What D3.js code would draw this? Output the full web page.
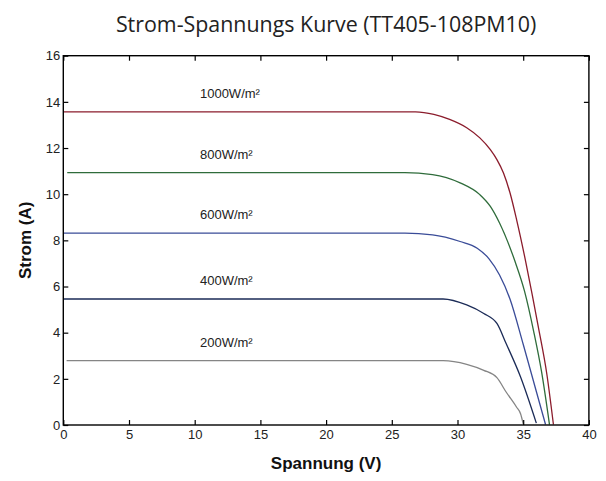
<!DOCTYPE html>
<html>
<head>
<meta charset="utf-8">
<script src="https://cdn.jsdelivr.net/npm/d3@7"></script>
<style>
  body { margin:0; background:#fff; }
  svg { display:block; }
  .tick text { font-family:"Liberation Sans", Arial, sans-serif; font-size:13px; fill:#222; }
</style>
</head>
<body>
<div id="chart"></div>
<script>

// irradiance levels (one curve each)
var irradiance = ["1000W/m²", "800W/m²", "600W/m²", "400W/m²", "200W/m²"];

// voltage (V) / current (A) points
var volt1000 = [0, 26.8, 28.2, 29.4, 30.7, 31.7, 32.5, 33.0, 33.5, 34.0, 34.5, 35.2, 35.7, 36.15, 36.8, 37.3];
var curr1000 = [13.57, 13.57, 13.46, 13.24, 12.88, 12.44, 11.93, 11.5, 10.92, 10.05, 8.89, 7.05, 5.6, 4.25, 2.2, 0.02];

var volt800 = [0.3, 26.0, 28.1, 30.2, 31.7, 32.5, 33.2, 34.4, 35.1, 35.8, 36.4, 37.0];
var curr800 = [10.93, 10.93, 10.85, 10.49, 9.98, 9.47, 8.75, 7.05, 5.8, 4.05, 2.3, 0.02];

var volt600 = [0, 26.0, 28.1, 30.2, 31.5, 32.4, 33.2, 34.0, 35.0, 36.0, 36.7];
var curr600 = [8.31, 8.31, 8.24, 7.95, 7.66, 7.2, 6.5, 5.45, 3.5, 1.45, 0.02];

var volt400 = [0, 28.9, 30.7, 32.0, 33.0, 33.7, 34.8, 36.0];
var curr400 = [5.46, 5.46, 5.2, 4.83, 4.4, 3.53, 2.08, 0.08];

var volt200 = [0.25, 28.9, 30.7, 32.0, 33.0, 33.7, 34.5, 34.8, 35.0];
var curr200 = [2.79, 2.79, 2.63, 2.37, 2.05, 1.43, 0.77, 0.49, 0.05];

var xTicks = [0, 5, 10, 15, 20, 25, 30, 35, 40];
var yTicks = [0, 2, 4, 6, 8, 10, 12, 14, 16];

var labelVolt = 10.4;   // where the irradiance labels start

var colors = ["#8b1c2c", "#2f6c3b", "#3a4c98", "#1b2b57", "#858585"];

var series = [
  {name:irradiance[0], v:volt1000, i:curr1000},
  {name:irradiance[1], v:volt800,  i:curr800},
  {name:irradiance[2], v:volt600,  i:curr600},
  {name:irradiance[3], v:volt400,  i:curr400},
  {name:irradiance[4], v:volt200,  i:curr200}
];

var width = 606, height = 481;
var margin = {top:55.7, right:17.1, bottom:56, left:63.3};
var w = width - margin.left - margin.right;
var h = height - margin.top - margin.bottom;

var svg = d3.select("#chart").append("svg")
  .attr("width", width)
  .attr("height", height);

svg.append("text")
  .attr("x", margin.left + w/2)
  .attr("y", 32)
  .attr("text-anchor", "middle")
  .style("font-family", "'Open Sans', sans-serif")
  .style("font-size", "21.4px")
  .style("fill", "#222")
  .text("Strom-Spannungs Kurve (TT405-108PM10)");

var g = svg.append("g").attr("transform", "translate(" + margin.left + "," + margin.top + ")");

var x = d3.scaleLinear().domain([0, 40]).range([0, w]);
var y = d3.scaleLinear().domain([0, 16]).range([h, 0]);

//curves
var line = d3.line()
  .x(function(d){ return x(d[0]); })
  .y(function(d){ return y(d[1]); })
  .curve(d3.curveMonotoneX);

g.selectAll(".curve")
  .data(series)
  .enter().append("path")
  .attr("class", "curve")
  .attr("d", function(d){ return line(d.v.map(function(v, k){ return [v, d.i[k]]; })); })
  .style("fill", "none")
  .style("stroke", function(d, k){ return colors[k]; })
  .style("stroke-width", 1.3);

g.selectAll(".lbl")
  .data(series)
  .enter().append("text")
  .attr("class", "lbl")
  .attr("x", x(labelVolt))
  .attr("y", function(d){ return y(d.i[0]) - 14; })
  .style("font-family", "'Liberation Sans', Arial, sans-serif")
  .style("font-size", "13px")
  .style("fill", "#222")
  .text(function(d){ return d.name; });

//axes, ticks pointing inwards on all four sides
g.append("g").attr("transform", "translate(0," + h + ")")
  .call(d3.axisBottom(x).tickValues(xTicks).tickSize(-5).tickSizeOuter(0).tickPadding(5));
g.append("g")
  .call(d3.axisLeft(y).tickValues(yTicks).tickSize(-5).tickSizeOuter(0).tickPadding(3));
g.append("g")
  .call(d3.axisTop(x).tickValues(xTicks).tickSize(-5).tickSizeOuter(0).tickFormat(""));
g.append("g").attr("transform", "translate(" + w + ",0)")
  .call(d3.axisRight(y).tickValues(yTicks).tickSize(-5).tickSizeOuter(0).tickFormat(""));

g.selectAll(".domain").remove();
g.selectAll(".tick line").style("stroke", "#000").style("stroke-width", 1.2);

g.append("rect")
  .attr("width", w)
  .attr("height", h)
  .style("fill", "none")
  .style("stroke", "#000")
  .style("stroke-width", 1.4);

svg.append("text")
  .attr("x", margin.left + w/2)
  .attr("y", 469)
  .attr("text-anchor", "middle")
  .style("font-family", "'Liberation Sans', Arial, sans-serif")
  .style("font-size", "17px")
  .style("font-weight", "bold")
  .style("fill", "#111")
  .text("Spannung (V)");

svg.append("text")
  .attr("transform", "translate(31," + (margin.top + h/2) + ") rotate(-90)")
  .attr("text-anchor", "middle")
  .style("font-family", "'Liberation Sans', Arial, sans-serif")
  .style("font-size", "17px")
  .style("font-weight", "bold")
  .style("fill", "#111")
  .text("Strom (A)");

</script>
</body>
</html>
